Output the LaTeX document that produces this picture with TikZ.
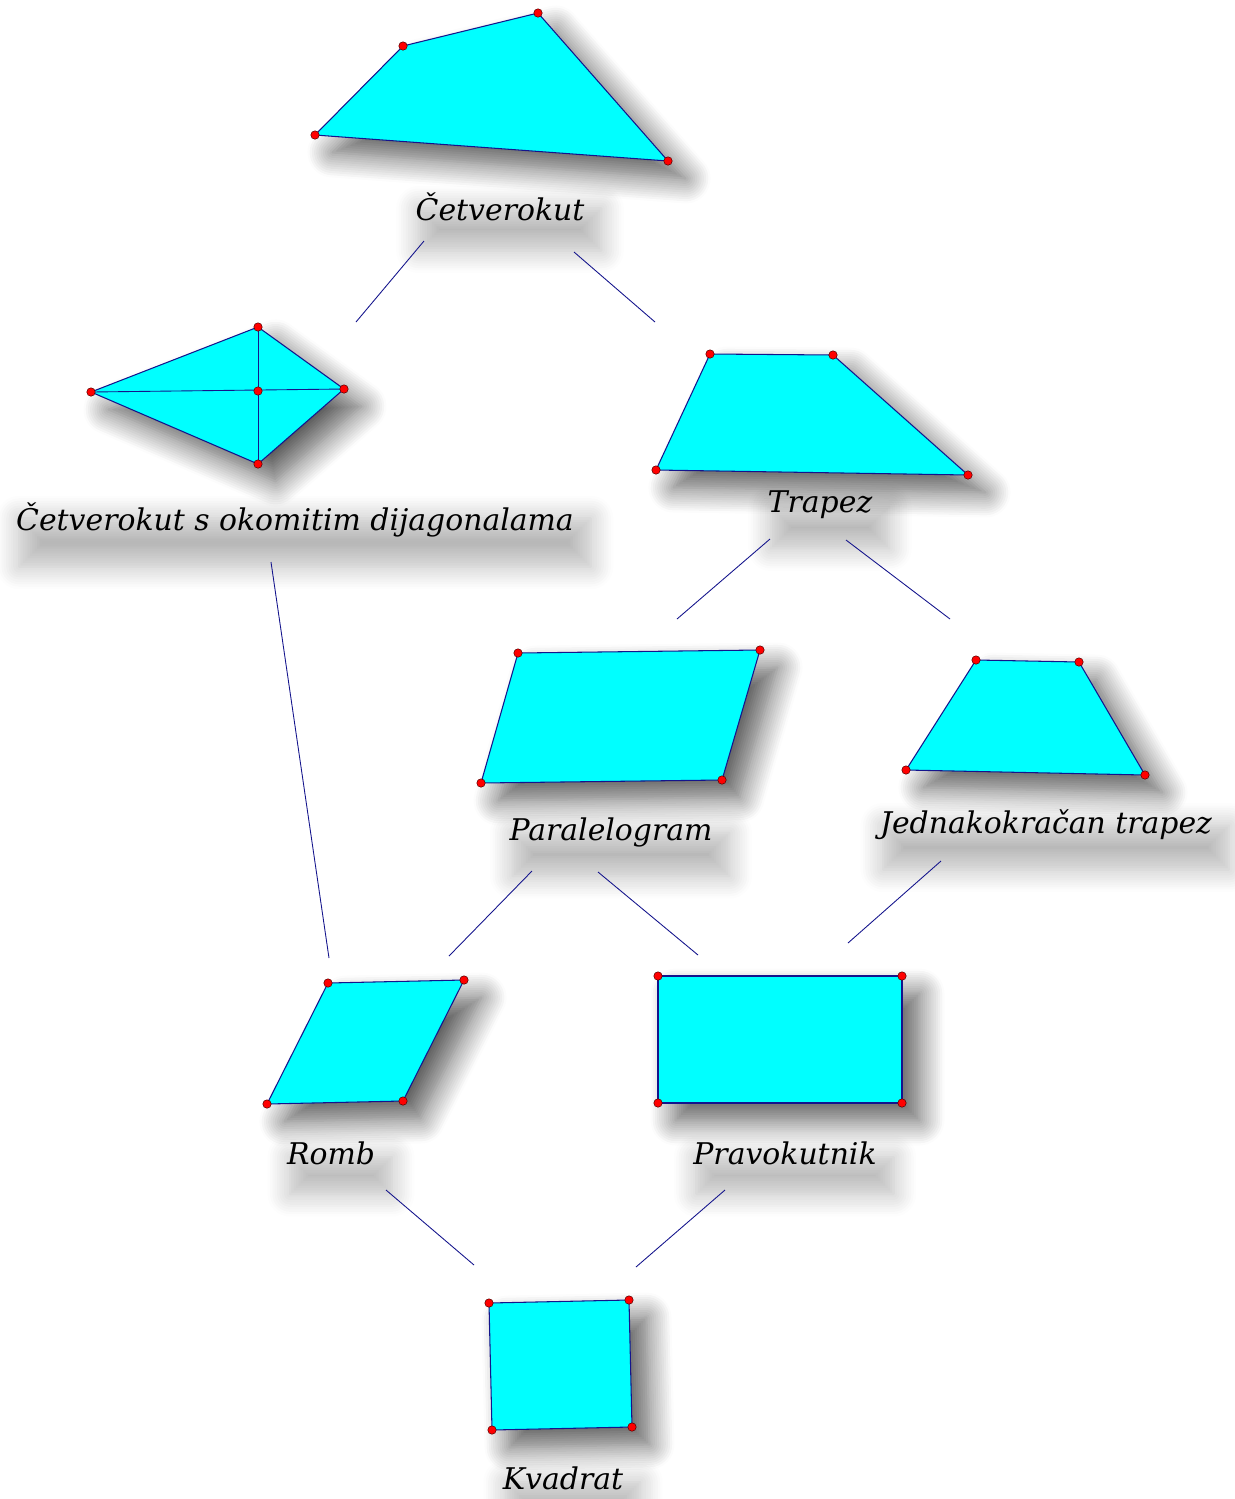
\documentclass[tikz,border=0pt]{standalone}
\usepackage{fontspec}
\setmainfont{DejaVu Serif}
\usetikzlibrary{shadows.blur}
\definecolor{cijan}{RGB}{0,255,255}
\definecolor{rub}{RGB}{20,20,140}

\begin{document}
\begin{tikzpicture}[
      x=0.02cm, y=-0.02cm,
      lik/.style={
          fill=cijan,
          draw=rub,
          line width=0.6pt,
          line join=round,
          blur shadow={shadow xshift=0.35cm, shadow yshift=-0.35cm,
              shadow blur radius=0.5cm, shadow blur steps=12, shadow opacity=65}
        },
      ime/.style={
          font=\fontsize{17}{20}\selectfont\itshape,
          inner sep=4pt,
          blur shadow={shadow xshift=0.2cm, shadow yshift=-0.45cm,
              shadow blur radius=0.45cm, shadow blur steps=10, shadow opacity=28}
        },
      veza/.style={draw=rub, line width=0.5pt},
      tocka/.style={fill=red, draw=red!35!black, line width=0.3pt}
    ]
    \useasboundingbox (0,0) rectangle (1235,1499);

    % Shapes
    \draw[lik] (315,135) -- (403,46) -- (538,13) -- (668,161) -- cycle;
    \draw[lik] (91,392) -- (258,327) -- (344,389) -- (258,464) -- cycle;
    \draw[veza] (91,392) -- (344,389);
    \draw[veza] (258,327) -- (258,464);
    \draw[lik] (710,354) -- (833,355) -- (968,475) -- (656,470) -- cycle;
    \draw[lik] (518,653) -- (760,650) -- (722,780) -- (481,783) -- cycle;
    \draw[lik] (976,660) -- (1079,662) -- (1145,775) -- (906,770) -- cycle;
    \draw[lik] (328,983) -- (464,980) -- (403,1101) -- (267,1104) -- cycle;
    \draw[lik] (658,976) -- (902,976) -- (902,1103) -- (658,1103) -- cycle;
    \draw[lik] (489,1303) -- (629,1300) -- (632,1427) -- (492,1430) -- cycle;

    % Vertices
    \foreach \p in {(315,135),(403,46),(538,13),(668,161),
        (91,392),(258,327),(344,389),(258,464),(258,391),
        (710,354),(833,355),(968,475),(656,470),
        (518,653),(760,650),(722,780),(481,783),
        (976,660),(1079,662),(1145,775),(906,770),
        (328,983),(464,980),(403,1101),(267,1104),
        (658,976),(902,976),(902,1103),(658,1103),
        (489,1303),(629,1300),(632,1427),(492,1430)}
    \filldraw[tocka] \p circle[radius=2.4pt];

    % Labels
    \node[ime] (cetv)  at (500,207)  {Četverokut};
    \node[ime] (okom)  at (295,520)  {Četverokut s okomitim dijagonalama};
    \node[ime] (trap)  at (820,505)  {Trapez};
    \node[ime] (para)  at (611,832)  {Paralelogram};
    \node[ime] (jedn)  at (1046,825) {Jednakokračan trapez};
    \node[ime] (romb)  at (331,1153) {Romb};
    \node[ime] (prav)  at (785,1153) {Pravokutnik};
    \node[ime] (kvad)  at (563,1478) {Kvadrat};

    % Connector ends
    \coordinate (cetv-a) at (424,241);  \coordinate (okom-a) at (356,322);
    \coordinate (cetv-b) at (574,252);  \coordinate (trap-a) at (655,322);
    \coordinate (okom-b) at (271,562);  \coordinate (romb-a) at (329,958);
    \coordinate (trap-b) at (770,539);  \coordinate (para-a) at (677,619);
    \coordinate (trap-c) at (846,540);  \coordinate (jedn-a) at (950,619);
    \coordinate (para-b) at (532,871);  \coordinate (romb-b) at (449,956);
    \coordinate (para-c) at (598,872);  \coordinate (prav-a) at (698,955);
    \coordinate (jedn-b) at (941,861);  \coordinate (prav-b) at (848,943);
    \coordinate (romb-c) at (386,1190); \coordinate (kvad-a) at (474,1265);
    \coordinate (prav-c) at (725,1190); \coordinate (kvad-b) at (636,1267);

    % Connectors
    \draw[veza] (cetv-a) -- (okom-a);
    \draw[veza] (cetv-b) -- (trap-a);
    \draw[veza] (okom-b) -- (romb-a);
    \draw[veza] (trap-b) -- (para-a);
    \draw[veza] (trap-c) -- (jedn-a);
    \draw[veza] (para-b) -- (romb-b);
    \draw[veza] (para-c) -- (prav-a);
    \draw[veza] (jedn-b) -- (prav-b);
    \draw[veza] (romb-c) -- (kvad-a);
    \draw[veza] (prav-c) -- (kvad-b);
  \end{tikzpicture}
\end{document}
